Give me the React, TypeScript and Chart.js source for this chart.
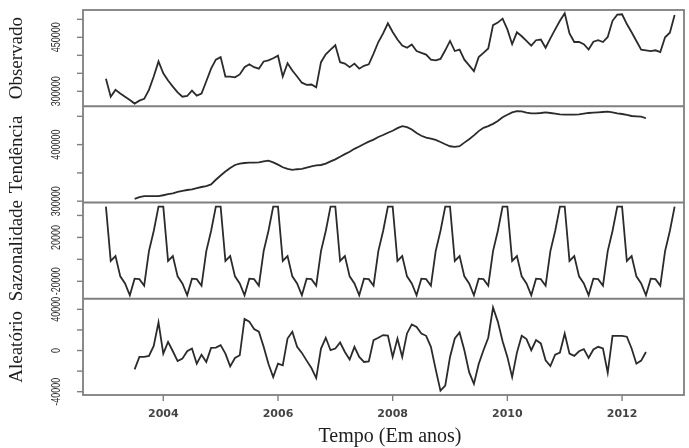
import { useEffect, useRef } from 'react';
import { Chart, registerables } from 'chart.js';

Chart.register(...registerables);

// ---- data (monthly, Jan 2003 – Dec 2012) ----
const START_YEAR = 2003;

const observado = [
  335000, 285000, 304000, 294000, 285000, 276000, 266000, 274000, 279000, 304000, 341000, 383000,
  350000, 330000, 313000, 297000, 285000, 287000, 302000, 288000, 294000, 328000, 363000, 388000,
  395000, 341000, 341000, 339000, 347000, 367000, 375000, 367000, 363000, 383000, 386000, 392000,
  399000, 341000, 378000, 358000, 341000, 324000, 318000, 319000, 311000, 381000, 403000, 416000,
  428000, 381000, 377000, 367000, 377000, 363000, 371000, 375000, 405000, 437000, 461000, 489000,
  465000, 444000, 427000, 421000, 430000, 412000, 407000, 402000, 388000, 386000, 390000, 414000,
  440000, 412000, 416000, 388000, 372000, 356000, 395000, 407000, 419000, 484000, 491000, 502000,
  472000, 431000, 464000, 453000, 440000, 427000, 442000, 444000, 421000, 447000, 472000, 496000,
  517000, 461000, 437000, 437000, 431000, 416000, 438000, 442000, 437000, 451000, 496000, 513000,
  514000, 487000, 464000, 440000, 416000, 414000, 412000, 414000, 409000, 450000, 463000, 512000,
];

// trend: Jul 2003 – Jun 2012
const tendenciaInicio = 6;
const tendencia = [
  304100, 307000, 308800, 308800, 308800, 308800,
  310500, 312300, 314000, 316300, 318100, 319800, 321000, 323300, 325100, 326800, 329700, 337900,
  345400, 352400, 358800, 364000, 366300, 367500, 368100, 368100, 368700, 370400, 371600, 368700,
  364600, 360000, 357000, 355300, 356500, 357000, 359400, 361700, 363400, 364000, 366300, 370400,
  373900, 378500, 383200, 387300, 392500, 396600, 401200, 405300, 408800, 413400, 416900, 421000,
  424500, 429100, 432600, 430900, 426800, 420400, 415700, 412300, 410500, 408200, 404700, 400600,
  397100, 396000, 397100, 403500, 409400, 416300, 423900, 429700, 432600, 436700, 441900, 448300,
  452900, 457000, 459300, 458800, 456400, 455300, 455300, 455900, 457000, 455900, 454700, 453500,
  452900, 452900, 452900, 453500, 454700, 455900, 456400, 457000, 457600, 458200, 457000, 455300,
  454100, 452400, 450600, 450000, 449500, 446600,
];

// seasonal component (same figure each year, Jan..Dec)
const sazonalidadeMensal = [48000, -1500, 3000, -15500, -22000, -32700, -17600, -18000, -24000, 7500, 25800, 48000];
const anosSazonalidade = 10;

// remainder: Jul 2003 – Jun 2012
const aleatorioInicio = 6;
const aleatorio = [
  -18300, -6200, -6200, -5200, 4500, 27400,
  -3000, 8400, -700, -10200, -7900, -700, 1900, -12800, -4000, -11100, 2600, 2900,
  5200, -3000, -15400, -7200, -4600, 30700, 28100, 20900, 18300, 3600, -12800, -25800,
  -12800, -14400, 11700, 18300, 3600, -2300, -9800, -17000, -26800, 1900, 12400, 300,
  1900, 7800, -1400, -8800, 3600, -6200, -11100, -10500, 10100, 12400, 15000, 14500,
  -6200, 11700, -6200, 16600, 25400, 22800, 16600, 14300, 3600, -18300, -38900, -34000,
  -6200, 11700, 17600, 300, -21000, -32400, -13100, 300, 12400, 41800, 28100, 9100,
  -6200, -25800, -2000, 14300, 11100, 300, 10100, 6900, -9500, -15100, -4000, -2000,
  16600, -3000, -5200, -700, 1300, -7200, 1000, 3600, 2000, -21600, 14300, 14300,
  14300, 13400, 2000, -12800, -9800, -1400,
];

// ---- axis ticks ----
const xTicks = [2004, 2006, 2008, 2010, 2012];
const xTitle = 'Tempo (Em anos)';

const obsTicks = [300000, 350000, 400000, 450000, 500000];
const obsTickLabels = [300000, 450000];
const trendTicks = [300000, 350000, 400000, 450000];
const trendTickLabels = [300000, 400000];
const seasTicks = [-20000, 0, 20000, 40000];
const seasTickLabels = [-20000, 20000];
const randTicks = [-40000, -20000, 0, 20000, 40000];
const randTickLabels = [-40000, 0, 40000];

const panelTitles = ['Observado', 'Tendência', 'Sazonalidade', 'Aleatório'];

const toPoints = (vals: number[], offset: number) =>
  vals.map((v, i) => ({ x: START_YEAR + (i + offset) / 12, y: v }));

const panels = [
  { id: 'yObs', title: panelTitles[0], ticks: obsTicks, labels: obsTickLabels },
  { id: 'yTrend', title: panelTitles[1], ticks: trendTicks, labels: trendTickLabels },
  { id: 'ySeas', title: panelTitles[2], ticks: seasTicks, labels: seasTickLabels },
  { id: 'yRand', title: panelTitles[3], ticks: randTicks, labels: randTickLabels },
];

const FRAME = '#7f7f7f';

const decoPlugin = {
  id: 'rDecompose',
  afterDatasetsDraw(chart: any) {
    const { ctx, chartArea } = chart;
    const { left, right, top, bottom } = chartArea;
    ctx.save();
    ctx.strokeStyle = FRAME;
    ctx.lineWidth = 1.8;
    ctx.strokeRect(left, top, right - left, bottom - top);
    panels.forEach((p, idx) => {
      const sc = chart.scales[p.id];
      if (idx < panels.length - 1) {
        ctx.lineWidth = 1.8;
        ctx.beginPath();
        ctx.moveTo(left, sc.bottom);
        ctx.lineTo(right, sc.bottom);
        ctx.stroke();
      }
      ctx.lineWidth = 1.4;
      p.ticks.forEach((t) => {
        const y = sc.getPixelForValue(t);
        ctx.beginPath();
        ctx.moveTo(left - 6, y);
        ctx.lineTo(left, y);
        ctx.stroke();
      });
      ctx.fillStyle = '#333';
      ctx.font = '12px "Liberation Sans", Arial, sans-serif';
      ctx.textAlign = 'center';
      ctx.textBaseline = 'middle';
      p.labels.forEach((t) => {
        const y = sc.getPixelForValue(t);
        ctx.save();
        ctx.translate(57, y);
        ctx.rotate(-Math.PI / 2);
        ctx.scale(0.75, 1);
        ctx.fillText(String(t), 0, 0);
        ctx.restore();
      });
      ctx.fillStyle = '#1e1e1e';
      ctx.font = '19px "Liberation Serif", "Times New Roman", serif';
      ctx.save();
      ctx.translate(17, (sc.top + sc.bottom) / 2);
      ctx.rotate(-Math.PI / 2);
      ctx.fillText(p.title, 0, 0);
      ctx.restore();
    });
    const xs = chart.scales.x;
    ctx.strokeStyle = FRAME;
    ctx.lineWidth = 1.4;
    ctx.fillStyle = '#444';
    ctx.font = 'bold 11px "DejaVu Sans", sans-serif';
    ctx.textAlign = 'center';
    ctx.textBaseline = 'middle';
    xTicks.forEach((t) => {
      const x = xs.getPixelForValue(t);
      ctx.beginPath();
      ctx.moveTo(x, bottom);
      ctx.lineTo(x, bottom + 6);
      ctx.stroke();
      ctx.fillText(String(t), x, 414);
    });
    ctx.fillStyle = '#1e1e1e';
    ctx.font = '20px "Liberation Serif", "Times New Roman", serif';
    ctx.fillText(xTitle, 390, 437);
    ctx.restore();
  },
};

export default function App() {
  const ref = useRef<HTMLCanvasElement | null>(null);
  useEffect(() => {
    if (!ref.current) return;
    const lineStyle = { borderColor: '#2b2b2b', borderWidth: 1.8, pointRadius: 0, tension: 0, fill: false };
    const chart = new Chart(ref.current, {
      type: 'line',
      data: {
        datasets: [
          { ...lineStyle, data: toPoints(observado, 0), yAxisID: 'yObs' },
          { ...lineStyle, data: toPoints(tendencia, tendenciaInicio), yAxisID: 'yTrend' },
          {
            ...lineStyle,
            data: toPoints(Array.from({ length: anosSazonalidade }, () => sazonalidadeMensal).flat(), 0),
            yAxisID: 'ySeas',
          },
          { ...lineStyle, data: toPoints(aleatorio, aleatorioInicio), yAxisID: 'yRand' },
        ],
      },
      options: {
        animation: false,
        responsive: false,
        maintainAspectRatio: false,
        layout: { padding: { left: 83, right: 5, top: 10, bottom: 53 } },
        plugins: { legend: { display: false }, tooltip: { enabled: false } },
        scales: {
          x: { type: 'linear', min: 2002.6, max: 2013.08, display: false },
          yRand: { type: 'linear', position: 'left', stack: 'painel', stackWeight: 1, min: -43200, max: 50300, display: false },
          ySeas: { type: 'linear', position: 'left', stack: 'painel', stackWeight: 1, min: -35900, max: 51800, display: false },
          yTrend: { type: 'linear', position: 'left', stack: 'painel', stackWeight: 1, min: 297700, max: 467800, display: false },
          yObs: { type: 'linear', position: 'left', stack: 'painel', stackWeight: 1, min: 258500, max: 526000, display: false },
        },
      } as any,
      plugins: [decoPlugin],
    });
    return () => chart.destroy();
  }, []);
  return (
    <div style={{ position: 'absolute', left: 0, top: 0, width: 689, height: 448, background: '#fff' }}>
      <canvas ref={ref} width={689} height={448} />
    </div>
  );
}
